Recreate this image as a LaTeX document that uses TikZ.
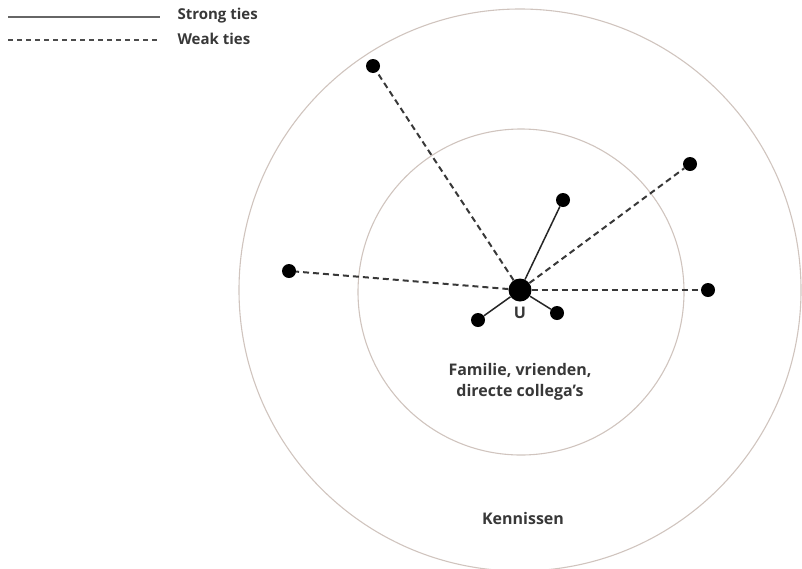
\documentclass[tikz,border=0pt]{standalone}
\usepackage{fontspec}
\setmainfont{Open Sans}
\begin{document}
\begin{tikzpicture}[x=1pt,y=-1pt,
  ring/.style={draw=ringgray,line width=1.1pt},
  dot/.style={circle,fill=black,inner sep=0pt,minimum size=14pt},
  ego/.style={circle,fill=black,inner sep=0pt,minimum size=23pt},
  strongtie/.style={draw=black!85,line width=1.5pt},
  weaktie/.style={draw=black!78,line width=2pt,dash pattern=on 6pt off 4pt},
  lbl/.style={font=\fontsize{16}{21}\selectfont\bfseries,text=black!78,align=center},
  leglbl/.style={font=\fontsize{15}{18}\selectfont\bfseries,text=black!78,anchor=west}]
\definecolor{ringgray}{RGB}{208,196,190}
\useasboundingbox (0,0) rectangle (802,568);
% rings
\node[ring,circle,minimum size=562pt,inner sep=0pt] (outer) at (520,290) {};
\node[ring,circle,minimum size=326pt,inner sep=0pt] (inner) at (521,292) {};
% nodes
\node[ego] (U) at (520,290) {};
\node[dot] (tl) at (373,66) {};
\node[dot] (tr) at (690,164) {};
\node[dot] (it) at (563,200) {};
\node[dot] (le) at (289,271) {};
\node[dot] (ri) at (708,290) {};
\node[dot] (ll) at (478,320) {};
\node[dot] (lr) at (557,313) {};
% ties
\draw[weaktie] (U) -- (tl);
\draw[weaktie] (U) -- (tr);
\draw[weaktie] (U) -- (le);
\draw[weaktie] (U) -- (ri);
\draw[strongtie] (U) -- (it);
\draw[strongtie] (U) -- (ll);
\draw[strongtie] (U) -- (lr);
% labels
\node[lbl] (ulbl) at (520,313) {U};
\node[lbl] (fam) at (520,382) {Familie, vrienden,\\directe collega's};
\node[lbl] (ken) at (523,518) {Kennissen};
% legend
\coordinate (s1) at (8,17);
\coordinate (s2) at (160,17);
\coordinate (w1) at (8,40);
\coordinate (w2) at (160,40);
\draw[strongtie,draw=black!60,line width=1.8pt] (s1) -- (s2);
\draw[weaktie,draw=black!70,line width=1.5pt,dash pattern=on 5pt off 4pt] (w1) -- (w2);
\node[leglbl] (sl) at (174,16) {Strong ties};
\node[leglbl] (wl) at (174,39) {Weak ties};
\end{tikzpicture}
\end{document}
